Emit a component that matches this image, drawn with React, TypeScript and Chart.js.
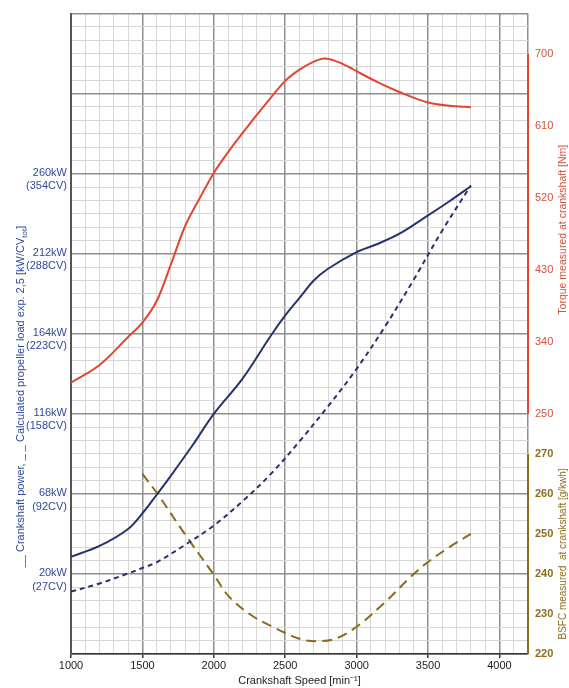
import React, { useEffect, useRef } from 'react';
import { Chart, registerables } from 'chart.js';

Chart.register(...registerables);

// ---- Data ----
const xTickLabels = [1000, 1500, 2000, 2500, 3000, 3500, 4000];
const kwTicks = [20, 68, 116, 164, 212, 260];
const cvTicks = [27, 92, 158, 223, 288, 354];
const torqueTicks = [250, 340, 430, 520, 610, 700];
const bsfcTicks = [220, 230, 240, 250, 260, 270];

const powerRpm = [1000, 1200, 1400, 1500, 1600, 1700, 1850, 2000, 2200, 2400, 2500, 2600, 2700, 2800, 3000, 3150, 3300, 3500, 3650, 3800];
const powerKw = [30.3, 36.8, 47, 56.3, 67.5, 79, 97, 116, 137, 163, 175, 185.5, 196, 203, 213, 218, 224, 235, 243.5, 252.5];

const propRpm = [1000, 1200, 1400, 1500, 1600, 1800, 2000, 2200, 2400, 2600, 2800, 3000, 3200, 3400, 3600, 3800];
const propKw = [9.4, 14.3, 20.3, 23.6, 27, 37.5, 49, 63.5, 80, 99.5, 120.5, 143, 168.5, 196.5, 226, 253];

const torqueRpm = [1000, 1200, 1400, 1500, 1600, 1700, 1800, 1900, 2000, 2100, 2250, 2400, 2500, 2600, 2700, 2775, 2850, 2950, 3000, 3150, 3300, 3500, 3650, 3800];
const torqueNm = [289, 311, 346, 364, 391, 437, 485, 519, 551, 577, 612, 645, 666, 680, 690, 694, 691, 683, 678, 664, 652, 639, 635, 633];

const bsfcRpm = [1500, 1600, 1800, 2000, 2100, 2250, 2400, 2600, 2720, 2850, 3000, 3200, 3400, 3500, 3650, 3800];
const bsfcG = [265, 260.3, 249.8, 239.8, 234.6, 230, 227, 223.8, 223.2, 223.8, 226.8, 233, 240, 243, 246.7, 250];

// ---- Scale ranges ----
const X_MIN = 1000, X_MAX = 4200, X_MINOR = 100, X_MAJOR = 500;
const P_MIN = -28, P_MAX = 356, P_MINOR = 8, P_MAJOR = 48;
const T_MIN = -50, T_MAX = 750;
const B_MIN = 220, B_MAX = 380;

// ---- Styles ----
const FONT = '"Liberation Sans", Arial, sans-serif';
const BLUE_LINE = '#27336f';
const BLUE_TEXT = '#2f4a9c';
const RED_LINE = '#e0472e';
const RED_TEXT = '#d4533c';
const OLIVE_LINE = '#8a6b1e';
const OLIVE_TEXT = '#8d6d1c';
const GRID_MAJOR = '#8e8e8e';
const GRID_MINOR_V = '#ddd6d6';
const GRID_MINOR_H = '#d6d6da';
const TENSION = 0.35;

const buildTicks = (min: number, max: number, step: number) => {
  const n = Math.round((max - min) / step);
  const out: { value: number }[] = [];
  for (let i = 0; i <= n; i++) out.push({ value: min + i * step });
  return out;
};

const toXY = (xs: number[], ys: number[]) => xs.map((x, i) => ({ x, y: ys[i] }));

const isMajorX = (v: number) => v % X_MAJOR === 0 || v === X_MAX;
const isMajorP = (v: number) => Math.abs((v - kwTicks[0]) % P_MAJOR) < 1e-6;

// The BSFC scale (y2) and the torque scale (y1) share the same pixel span, so BSFC tick
// labels are placed on the right-hand axis at the torque-scale value of the same pixel.
const bsfcToTorque = (b: number) => T_MIN + ((b - B_MIN) * (T_MAX - T_MIN)) / (B_MAX - B_MIN);
const rightLabels = new Map<number, { text: string; kind: 't' | 'b' }>();
torqueTicks.forEach((t) => rightLabels.set(t, { text: String(t), kind: 't' }));
bsfcTicks.forEach((b) => rightLabels.set(bsfcToTorque(b), { text: String(b), kind: 'b' }));
const findRight = (v: number) => {
  for (const [k, o] of rightLabels) if (Math.abs(k - v) < 1e-6) return o;
  return undefined;
};

const overlayPlugin = {
  id: 'overlay',
  afterDraw(chart: any) {
    const { ctx, chartArea, scales } = chart;
    const xR = chartArea.right;
    ctx.save();
    // partial right axis lines
    ctx.lineWidth = 2;
    ctx.strokeStyle = RED_LINE;
    ctx.beginPath();
    ctx.moveTo(xR, scales.y1.getPixelForValue(torqueTicks[torqueTicks.length - 1]));
    ctx.lineTo(xR, scales.y1.getPixelForValue(torqueTicks[0]));
    ctx.stroke();
    ctx.strokeStyle = OLIVE_LINE;
    ctx.beginPath();
    ctx.moveTo(xR, scales.y2.getPixelForValue(bsfcTicks[bsfcTicks.length - 1]));
    ctx.lineTo(xR, scales.y2.getPixelForValue(bsfcTicks[0]));
    ctx.stroke();

    // right titles (read bottom to top)
    const drawRot = (text: string, x: number, y: number, color: string, size: number) => {
      ctx.save();
      ctx.translate(x, y);
      ctx.rotate(-Math.PI / 2);
      ctx.font = `${size}px ${FONT}`;
      ctx.fillStyle = color;
      ctx.textAlign = 'center';
      ctx.textBaseline = 'middle';
      ctx.fillText(text, 0, 0);
      ctx.restore();
    };
    const tMid = (scales.y1.getPixelForValue(torqueTicks[0]) + scales.y1.getPixelForValue(torqueTicks[torqueTicks.length - 1])) / 2;
    const bMid = (scales.y2.getPixelForValue(bsfcTicks[0]) + scales.y2.getPixelForValue(bsfcTicks[bsfcTicks.length - 1])) / 2;
    drawRot('Torque measured at crankshaft [Nm]', xR + 35, tMid - 4, RED_TEXT, 10.5);
    drawRot('BSFC measured  at crankshaft [g/kwh]', xR + 35, bMid, OLIVE_TEXT, 10);

    // left title with subscript
    const main = '__ Crankshaft power, _ _ Calculated propeller load exp. 2,5 [kW/CV';
    const sub = 'tot';
    const end = ']';
    const cy = chartArea.top + (chartArea.bottom - chartArea.top) * 0.598;
    ctx.save();
    ctx.translate(20, cy);
    ctx.rotate(-Math.PI / 2);
    ctx.fillStyle = BLUE_TEXT;
    ctx.textAlign = 'left';
    ctx.textBaseline = 'alphabetic';
    ctx.font = `11px ${FONT}`;
    const w1 = ctx.measureText(main).width;
    const w3 = ctx.measureText(end).width;
    ctx.font = `8px ${FONT}`;
    const w2 = ctx.measureText(sub).width;
    let x = -(w1 + w2 + w3) / 2;
    ctx.font = `11px ${FONT}`;
    ctx.fillText(main, x, 4);
    x += w1;
    ctx.font = `8px ${FONT}`;
    ctx.fillText(sub, x, 6.5);
    x += w2;
    ctx.font = `11px ${FONT}`;
    ctx.fillText(end, x, 4);
    ctx.restore();

    ctx.restore();
  },
};

export default function App() {
  const ref = useRef<HTMLCanvasElement | null>(null);

  useEffect(() => {
    document.body.style.margin = '0';
    if (!ref.current) return;
    Chart.defaults.font.family = FONT;

    const chart = new Chart(ref.current, {
      type: 'line',
      data: {
        datasets: [
          {
            label: 'Torque',
            data: toXY(torqueRpm, torqueNm),
            yAxisID: 'y1',
            borderColor: RED_LINE,
            borderWidth: 2,
            pointRadius: 0,
            tension: TENSION,
            fill: false,
          },
          {
            label: 'Crankshaft power',
            data: toXY(powerRpm, powerKw),
            yAxisID: 'y',
            borderColor: BLUE_LINE,
            borderWidth: 2,
            pointRadius: 0,
            tension: TENSION,
            fill: false,
          },
          {
            label: 'Propeller load',
            data: toXY(propRpm, propKw),
            yAxisID: 'y',
            borderColor: BLUE_LINE,
            borderWidth: 2,
            borderDash: [5, 4],
            pointRadius: 0,
            tension: TENSION,
            fill: false,
          },
          {
            label: 'BSFC',
            data: toXY(bsfcRpm, bsfcG),
            yAxisID: 'y2',
            borderColor: OLIVE_LINE,
            borderWidth: 2,
            borderDash: [10, 6],
            pointRadius: 0,
            tension: TENSION,
            fill: false,
          },
        ],
      },
      options: {
        responsive: false,
        animation: false,
        events: [],
        layout: { padding: { top: 12, left: 0, right: 0, bottom: 0 } },
        plugins: {
          legend: { display: false },
          tooltip: { enabled: false },
        },
        scales: {
          x: {
            type: 'linear',
            min: X_MIN,
            max: X_MAX,
            afterBuildTicks: (s: any) => { s.ticks = buildTicks(X_MIN, X_MAX, X_MINOR); },
            afterFit: (s: any) => { s.height = 34; },
            grid: {
              color: (c: any) => (isMajorX(c.tick.value) ? GRID_MAJOR : GRID_MINOR_V),
              lineWidth: (c: any) => (isMajorX(c.tick.value) ? 1.5 : 1),
              tickLength: 4,
              tickColor: (c: any) => (xTickLabels.includes(c.tick.value) ? '#333' : 'rgba(0,0,0,0)'),
            },
            border: { color: '#333', width: 1.5 },
            ticks: {
              autoSkip: false,
              maxRotation: 0,
              padding: 1,
              color: '#222',
              font: { size: 11 },
              callback: (v: any) => (xTickLabels.includes(v) ? String(v) : ''),
            },
            title: {
              display: true,
              text: 'Crankshaft Speed [min⁻¹]',
              color: '#222',
              font: { size: 11 },
              padding: { top: 0, bottom: 0 },
            },
          },
          y: {
            position: 'left',
            min: P_MIN,
            max: P_MAX,
            afterBuildTicks: (s: any) => { s.ticks = buildTicks(P_MIN, P_MAX, P_MINOR); },
            afterFit: (s: any) => { s.width = 71; },
            grid: {
              color: (c: any) => (isMajorP(c.tick.value) ? GRID_MAJOR : GRID_MINOR_H),
              lineWidth: (c: any) => (isMajorP(c.tick.value) ? 1.5 : 1),
              drawTicks: false,
            },
            border: { color: '#555', width: 2 },
            ticks: {
              autoSkip: false,
              padding: 4,
              color: BLUE_TEXT,
              labelOffset: 6,
              font: { size: 11, lineHeight: 1.2 },
              callback: (v: any) => {
                const i = kwTicks.indexOf(v);
                return i < 0 ? '' : [`${kwTicks[i]}kW`, `(${cvTicks[i]}CV)`];
              },
            },
          },
          y1: {
            position: 'right',
            min: T_MIN,
            max: T_MAX,
            afterBuildTicks: (s: any) => {
              s.ticks = Array.from(rightLabels.keys()).sort((a, b) => a - b).map((v) => ({ value: v }));
            },
            afterFit: (s: any) => { s.width = 41; },
            grid: { display: false, drawTicks: false, drawOnChartArea: false },
            border: { display: false },
            ticks: {
              autoSkip: false,
              padding: 7,
              color: (c: any) => (findRight(c.tick.value)?.kind === 'b' ? OLIVE_TEXT : RED_TEXT),
              font: (c: any) => ({ size: 11, weight: findRight(c.tick?.value)?.kind === 'b' ? 'bold' : 'normal' }),
              callback: (v: any) => findRight(v)?.text ?? '',
            },
          },
          y2: {
            display: false,
            position: 'right',
            min: B_MIN,
            max: B_MAX,
          },
        },
      } as any,
      plugins: [overlayPlugin],
    });
    return () => chart.destroy();
  }, []);

  return (
    <div style={{ position: 'fixed', left: 0, top: 0, width: 569, height: 688, background: '#fff' }}>
      <canvas ref={ref} width={569} height={688} style={{ display: 'block' }} />
    </div>
  );
}
